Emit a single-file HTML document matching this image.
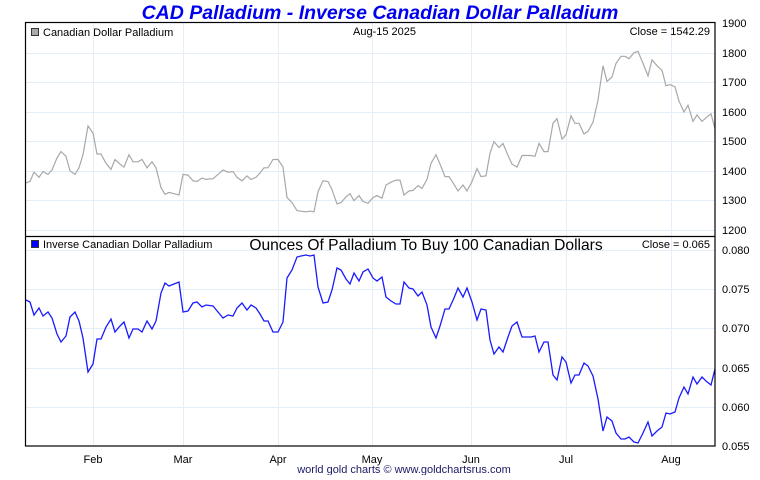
<!DOCTYPE html>
<html><head><meta charset="utf-8"><style>
html,body{margin:0;padding:0;background:#fff;}
svg text{font-family:"Liberation Sans",sans-serif;}
</style></head><body>
<svg id="s" width="760" height="475" xmlns="http://www.w3.org/2000/svg">
<rect width="760" height="475" fill="#fff"/>
<g stroke="#e4eef8" stroke-width="1">
<line x1="25" x2="715" y1="53.5" y2="53.5"/><line x1="25" x2="715" y1="82.5" y2="82.5"/><line x1="25" x2="715" y1="112.5" y2="112.5"/><line x1="25" x2="715" y1="141.5" y2="141.5"/><line x1="25" x2="715" y1="171.5" y2="171.5"/><line x1="25" x2="715" y1="200.5" y2="200.5"/><line x1="25" x2="715" y1="230.5" y2="230.5"/>
<line x1="25" x2="715" y1="250.5" y2="250.5"/><line x1="25" x2="715" y1="289.5" y2="289.5"/><line x1="25" x2="715" y1="328.5" y2="328.5"/><line x1="25" x2="715" y1="368.5" y2="368.5"/><line x1="25" x2="715" y1="407.5" y2="407.5"/>
<line x1="93.5" x2="93.5" y1="23" y2="446"/><line x1="183.5" x2="183.5" y1="23" y2="446"/><line x1="278.5" x2="278.5" y1="23" y2="446"/><line x1="372.5" x2="372.5" y1="23" y2="446"/><line x1="471.5" x2="471.5" y1="23" y2="446"/><line x1="566.5" x2="566.5" y1="23" y2="446"/><line x1="671.5" x2="671.5" y1="23" y2="446"/>
</g>
<polyline id="top" fill="none" stroke="#a8a8a8" stroke-width="1.2"/>
<polyline id="bot" fill="none" stroke="#1a1aff" stroke-width="1.3"/>
<rect x="25.5" y="22.5" width="689.5" height="423.5" fill="none" stroke="#000" stroke-width="1.2"/>
<line x1="25" x2="715" y1="236.5" y2="236.5" stroke="#000" stroke-width="1.2"/>
<g font-size="11" fill="#000">
<text x="722" y="27">1900</text><text x="722" y="57">1800</text><text x="722" y="86">1700</text><text x="722" y="116">1600</text><text x="722" y="145">1500</text><text x="722" y="175">1400</text><text x="722" y="204">1300</text><text x="722" y="234">1200</text>
<text x="722" y="254">0.080</text><text x="722" y="293">0.075</text><text x="722" y="332">0.070</text><text x="722" y="372">0.065</text><text x="722" y="411">0.060</text><text x="722" y="450">0.055</text>
<g text-anchor="middle"><text x="93" y="463">Feb</text><text x="183" y="463">Mar</text><text x="278" y="463">Apr</text><text x="372" y="463">May</text><text x="471" y="463">Jun</text><text x="566" y="463">Jul</text><text x="671" y="463">Aug</text></g>
<text x="43" y="36">Canadian Dollar Palladium</text>
<text x="353" y="35">Aug-15  2025</text>
<text x="710" y="35" text-anchor="end">Close = 1542.29</text>
<text x="43" y="248">Inverse Canadian Dollar Palladium</text>
<text x="710" y="248" text-anchor="end">Close = 0.065</text>
</g>
<rect x="31.5" y="28.5" width="7" height="7" fill="#aaa" stroke="#333"/>
<rect x="31.5" y="240.5" width="7" height="7" fill="#0000ff" stroke="#333"/>
<text x="426" y="250" font-size="15.6" text-anchor="middle" fill="#000">Ounces Of Palladium To Buy 100 Canadian Dollars</text>
<text x="380" y="19" font-size="19.5" font-weight="bold" font-style="italic" text-anchor="middle" fill="#0000ee">CAD Palladium - Inverse Canadian Dollar Palladium</text>
<text x="404" y="473" font-size="11" text-anchor="middle" fill="#1a1a66">world gold charts © www.goldchartsrus.com</text>
</svg>
<script>
var p=[26,300,30,302,34,315,39,308,43,316,48,312,52,318,57,334,61,342,66,336,70,317,75,312,79,321,83,338,88,372,93,364,97,339,101,339,106,327,111,319,115,332,120,326,124,322,129,338,133,329,138,329,142,332,147,321,152,329,156,321,161,293,165,283,169,286,174,284,179,282,183,312,188,311,193,303,197,302,202,307,206,305,213,306,218,312,223,318,228,315,233,316,237,308,242,303,247,310,251,305,256,308,260,314,264,321,268,321,273,332,278,332,283,322,287,278,292,270,297,257,301,256,306,255,310,256,314,255,318,287,323,303,328,302,332,290,337,268,341,270,346,279,350,284,354,273,359,281,363,272,368,269,373,278,377,281,382,277,386,297,391,301,396,304,400,304,404,282,409,288,413,289,418,296,422,292,427,305,431,327,436,338,440,326,445,309,449,309,454,298,458,288,463,297,467,288,472,302,477,320,481,309,486,310,490,340,494,354,499,347,503,352,508,337,512,326,517,322,522,337,526,337,531,337,535,336,539,352,544,342,548,342,553,375,557,380,562,357,566,362,571,383,575,375,579,375,584,363,588,366,593,376,598,399,603,431,607,417,612,421,616,433,621,439,625,439,629,437,634,442,638,443,643,433,648,422,652,436,657,431,662,427,666,413,670,414,675,412,679,398,684,387,688,394,693,377,697,384,702,377,706,381,711,385,715,369];
var b=[],t=[];
for(var i=0;i<p.length;i+=2){var x=p[i],y=p[i+1];b.push(x+","+y);
var v=0.080-(y-250)/39.3*0.005;var P=100/v;t.push(x+","+(23+(1900-P)/100*29.5).toFixed(1));}
document.getElementById("bot").setAttribute("points",b.join(" "));
document.getElementById("top").setAttribute("points",t.join(" "));
</script>
</body></html>
